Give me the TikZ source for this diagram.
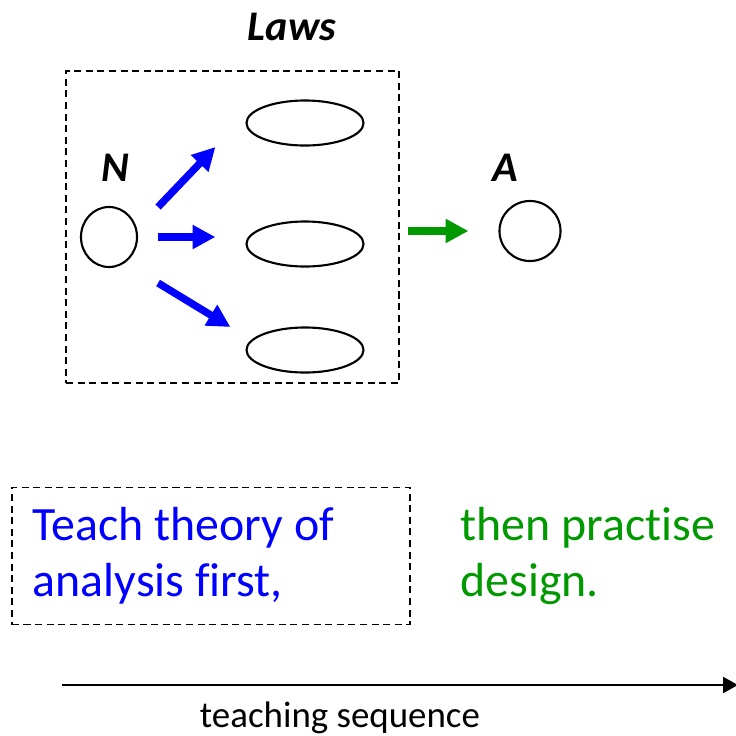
\documentclass[tikz,border=0pt]{standalone}
\usepackage{fontspec}
\setmainfont{Carlito}[Ligatures=NoCommon]
\usepackage{xcolor}
\usepackage{tikz}
\usetikzlibrary{arrows.meta,shapes.geometric}
\definecolor{designgreen}{RGB}{0,153,0}

\begin{document}
\begin{tikzpicture}[
  x=0.01cm, y=-0.01cm,
  law/.style={draw, ellipse, line width=0.6pt, minimum width=1.17cm, minimum height=0.45cm, inner sep=0pt},
  agent/.style={draw, ellipse, line width=0.6pt, inner sep=0pt},
  head/.style={font=\fontsize{12}{14}\selectfont\bfseries\itshape},
  frame/.style={draw, dash pattern=on 2pt off 1.3pt, line width=0.45pt},
  push/.style={-{Triangle[length=6.5pt, width=6.5pt]}, line width=2.1pt},
  bigtext/.style={font=\fontsize{13.6}{15.9}\selectfont, align=flush left}
]
\useasboundingbox (0,0) rectangle (736,736);
\node[head] (lawslabel) at (292,27) {Laws};
\node[frame, minimum width=3.33cm, minimum height=3.12cm] (lawsbox) at (232.5,227) {};
\node[agent, minimum width=0.56cm, minimum height=0.6cm] (nat) at (109,237) {};
\node[head] (natlabel) at (115,168) {N};
\node[law] (law1) at (305,123) {};
\node[law] (law2) at (305,244) {};
\node[law] (law3) at (305,350) {};
\node[agent, minimum width=0.61cm, minimum height=0.6cm] (art) at (530,231) {};
\node[head] (artlabel) at (505,168) {A};
\draw[push, blue] ([shift={(20,-30)}]nat.east) -- ([shift={(-30,24)}]law1.west);
\draw[push, blue] ([shift={(20,0)}]nat.east) -- ([shift={(-30,-7)}]law2.west);
\draw[push, blue] ([shift={(20,46)}]nat.east) -- ([shift={(-15,-23)}]law3.west);
\draw[push, designgreen] ([shift={(-90,0)}]art.west) -- ([shift={(-30,0)}]art.west);
\node[frame, bigtext, text=blue, minimum width=3.98cm, minimum height=1.37cm, text width=3.56cm, inner xsep=0.21cm] (theory) at (211,556) {Teach theory of\\analysis first,};
\node[bigtext, text=designgreen, anchor=west, inner sep=0pt] (practice) at (460,556) {then practise\\design.};
\coordinate (seqstart) at (62,685);
\coordinate (seqend) at (738,685);
\draw[-{Triangle[length=4.2pt, width=4.5pt]}, line width=0.55pt] (seqstart) -- (seqend);
\node[font=\fontsize{10.5}{12}\selectfont] (seq) at (340,718) {teaching sequence};
\end{tikzpicture}
\end{document}
